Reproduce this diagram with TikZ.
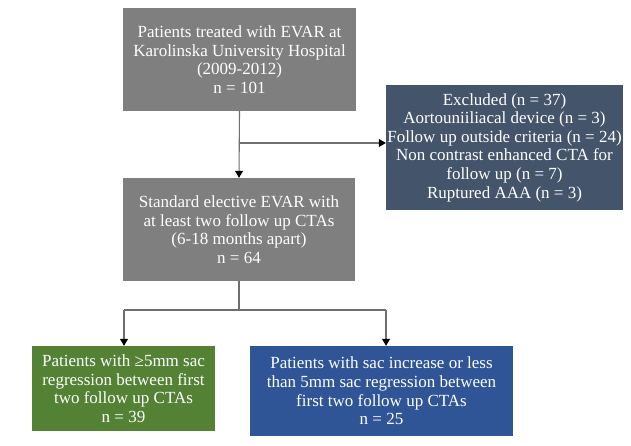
\documentclass[tikz,border=0pt]{standalone}
\usepackage{fontspec}
\setmainfont{Liberation Serif}
\usetikzlibrary{arrows.meta}
\definecolor{boxgray}{HTML}{7F7F7F}
\definecolor{boxslate}{HTML}{44546A}
\definecolor{boxgreen}{HTML}{548235}
\definecolor{boxblue}{HTML}{2F5597}
\definecolor{linegray}{HTML}{6F6F6F}
\begin{document}
\begin{tikzpicture}[x=1pt,y=-1pt,
  flowbox/.style={rectangle, inner sep=0pt, align=center, text=white,
    font=\fontsize{17}{18.6}\selectfont},
  conn/.style={draw=linegray, line width=1.1pt},
  arr/.style={conn, -{Triangle[length=7pt,width=8pt,color=black]}}
]
\useasboundingbox (0,0) rectangle (631,446);
\fill[white] (0,0) rectangle (631,446);
\node[flowbox, fill=boxgray, minimum width=233pt, minimum height=103pt] (b1) at (239.5,59.5)
  {Patients treated with EVAR at\\Karolinska University Hospital\\(2009-2012)\\n = 101};
\node[flowbox, fill=boxslate, minimum width=237pt, minimum height=125pt] (b2) at (504.5,147.5)
  {Excluded (n = 37)\\Aortouniiliacal device (n = 3)\\Follow up outside criteria (n = 24)\\Non contrast enhanced CTA for\\follow up (n = 7)\\Ruptured AAA (n = 3)};
\node[flowbox, fill=boxgray, minimum width=232pt, minimum height=103pt] (b3) at (239,229.5)
  {Standard elective EVAR with\\at least two follow up CTAs\\(6-18 months apart)\\n = 64};
\node[flowbox, fill=boxgreen, minimum width=183pt, minimum height=85pt] (b4) at (123.5,388.5)
  {Patients with ≥5mm sac\\regression between first\\two follow up CTAs\\n = 39};
\node[flowbox, fill=boxblue, minimum width=263pt, minimum height=90pt] (b5) at (381.5,391)
  {Patients with sac increase or less\\than 5mm sac regression between\\first two follow up CTAs\\n = 25};
\coordinate (j1) at (239,143);
\coordinate (j2) at (239,310);
\coordinate (d4) at (124,310);
\coordinate (d5) at (386,310);
\draw[arr] (b1.south) -- (b3.north);
\draw[arr] (j1) -- (j1 -| b2.west);
\draw[conn] (b3.south) -- (j2);
\draw[conn] (d4) -- (d5);
\draw[arr] (d4) -- (d4 |- b4.north);
\draw[arr] (d5) -- (d5 |- b5.north);
\end{tikzpicture}
\end{document}
